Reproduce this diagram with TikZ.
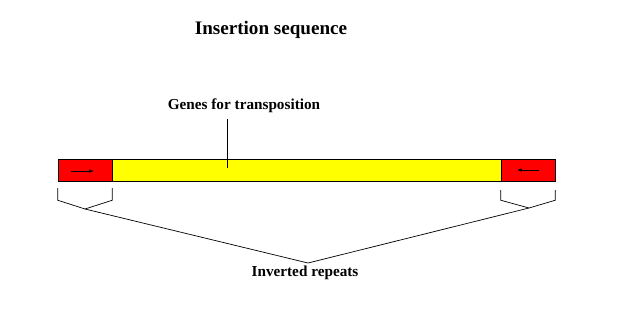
\documentclass[tikz,border=0pt]{standalone}
\usepackage{fontspec}
\setmainfont{Liberation Serif}
\usetikzlibrary{arrows.meta,calc}
\definecolor{RepFill}{RGB}{255,0,0}
\definecolor{GenFill}{RGB}{255,255,0}
\tikzset{
  nd_rep/.style={
    rectangle, draw=black, fill=RepFill,
    minimum width=1.62cm, minimum height=0.66cm, inner sep=0pt},
  nd_gen/.style={
    rectangle, draw=black, fill=GenFill,
    minimum width=11.67cm, minimum height=0.66cm, inner sep=0pt},
  lbl/.style={font=\fontsize{13}{15}\selectfont\bfseries, inner sep=1pt},
  arr/.style={-{Latex[length=4pt,width=3pt]}, line width=0.6pt},
  ln/.style={black, line width=0.6pt},
}
\begin{document}
\begin{tikzpicture}[x=0.03cm,y=-0.03cm]
\useasboundingbox (0,0) rectangle (626,327);

%% title
\node[lbl,font=\fontsize{16.3}{18}\selectfont\bfseries] at (271,30) (T){Insertion sequence};

%% ── element ─────────────────────────────────────────────
\node[nd_rep] at (85,170)    (RL){};
\node[nd_gen] at (306.5,170) (G){};
\node[nd_rep] at (528,170)   (RR){};

\draw[arr] ($(RL.center)+(-14,1)$)--($(RL.center)+(9,1)$);
\draw[arr] ($(RR.center)+(11,0)$)--($(RR.center)+(-11,0)$);

%% genes label
\node[lbl] at (244,106) (GL){Genes for transposition};
\coordinate (GT) at (227,168);
\draw[ln] (227,119)--(GT);

%% ── braces ──────────────────────────────────────────────
\node[lbl] at (305,273) (IR){Inverted repeats};
\coordinate (BL) at (85,209);
\coordinate (BR) at (529,208);
\coordinate (IT) at (308,263);
\draw[ln] ($(RL.south west)+(0,7)$)--++(0,12)--(BL)--($(RL.south east)+(0,19)$)--++(0,-12);
\draw[ln] ($(RR.south west)+(0,9)$)--++(0,10)--(BR)--($(RR.south east)+(0,19)$)--++(0,-10);
\draw[ln] (BL)--(IT)--(BR);

\end{tikzpicture}
\end{document}
